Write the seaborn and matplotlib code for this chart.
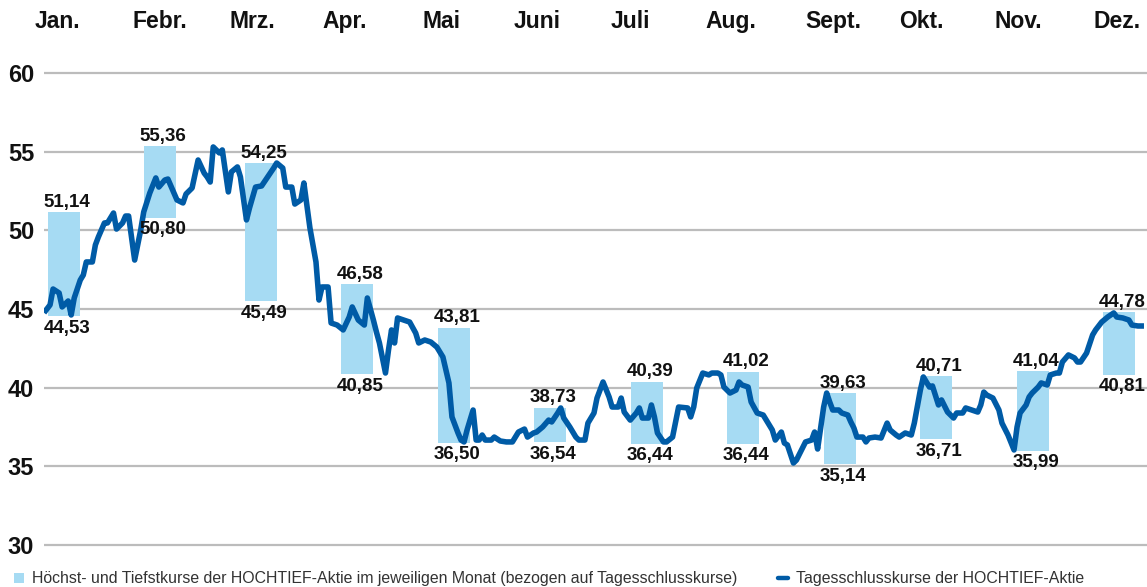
import matplotlib
matplotlib.use("Agg")
import matplotlib.pyplot as plt
import matplotlib.transforms as mtransforms
from matplotlib.patches import Patch
from matplotlib.lines import Line2D
import seaborn as sns
import pandas as pd

# ---------------- data ----------------
months = ["Jan.", "Febr.", "Mrz.", "Apr.", "Mai", "Juni", "Juli", "Aug.",
          "Sept.", "Okt.", "Nov.", "Dez."]
month_high = [51.14, 55.36, 54.25, 46.58, 43.81, 38.73, 40.39, 41.02, 39.63, 40.71, 41.04, 44.78]
month_low = [44.53, 50.80, 45.49, 40.85, 36.50, 36.54, 36.44, 36.44, 35.14, 36.71, 35.99, 40.81]
# position of each month's range bar (day of year)
bar_day = [6.5, 38.4, 71.8, 103.6, 135.7, 167.4, 199.5, 231.3, 263.4, 295.2, 327.3, 355.7]
# month header positions (day of year)
header_day = [4.6, 38.4, 68.8, 99.6, 131.4, 163.1, 193.9, 227.3, 261.1, 290.5, 322.3, 355.1]

# daily closing prices (day of year, EUR)
close_day = [0, 2, 3, 5, 6, 8, 9, 10, 12, 13, 14, 16, 17, 18, 20, 21, 23, 24, 26, 27,
             28, 30, 32, 33, 35, 37, 38, 40, 41, 43, 44, 46, 47, 49, 51, 53, 54, 55, 56, 58,
             59, 61, 62, 64, 65, 67, 68, 70, 72, 74, 76, 77, 79, 80, 82, 83, 85, 86, 88, 90,
             91, 92, 94, 95, 97, 99, 101, 102, 104, 106, 107, 109, 110, 111, 113, 114, 115, 116, 117, 119,
             121, 123, 124, 126, 128, 130, 132, 134, 135, 137, 138, 139, 140, 142, 143, 144, 145, 146, 148, 149,
             151, 153, 155, 157, 159, 160, 162, 163, 165, 167, 168, 170, 171, 172, 174, 176, 177, 179, 180, 182,
             183, 185, 187, 188, 190, 191, 192, 194, 196, 197, 198, 200, 201, 202, 203, 205, 206, 208, 209, 210,
             213, 214, 215, 216, 218, 220, 221, 223, 224, 225, 227, 229, 230, 231, 233, 234, 236, 238, 239, 241,
             242, 244, 245, 246, 248, 249, 251, 252, 254, 255, 256, 258, 259, 260, 261, 263, 264, 266, 267, 268,
             269, 271, 272, 273, 275, 277, 279, 280, 282, 283, 285, 287, 288, 290, 291, 293, 294, 296, 297, 299,
             301, 302, 304, 305, 307, 309, 310, 311, 312, 314, 316, 317, 319, 321, 322, 323, 325, 326, 327, 329,
             330, 332, 333, 335, 336, 337, 339, 341, 342, 343, 345, 347, 348, 350, 352, 354, 355, 357, 359, 360,
             362, 364]
close_price = [44.76, 45.26, 46.27, 46.02, 45.13, 45.51, 44.62, 45.70, 46.84, 47.16,
               47.99, 47.99, 49.07, 49.58, 50.47, 50.47, 51.10, 50.08, 50.47, 50.91,
               50.91, 48.11, 50.02, 51.17, 52.37, 53.33, 52.75, 53.20, 53.26, 52.37,
               51.93, 51.74, 52.31, 52.69, 54.47, 53.64, 53.39, 53.07, 55.30, 54.92,
               55.11, 52.44, 53.71, 54.03, 53.39, 50.66, 51.42, 52.75, 52.82, 53.39,
               53.96, 54.28, 53.96, 52.75, 52.75, 51.67, 51.93, 53.01, 50.15, 47.99,
               45.57, 46.40, 46.40, 44.11, 43.98, 43.67, 44.49, 45.13, 44.30, 43.98,
               45.70, 44.30, 43.54, 42.84, 40.93, 42.39, 43.67, 42.84, 44.43, 44.30,
               44.17, 43.47, 42.84, 43.03, 42.90, 42.58, 41.95, 40.30, 38.14, 37.12,
               36.67, 36.55, 37.31, 38.58, 36.67, 36.67, 36.99, 36.67, 36.67, 36.86,
               36.61, 36.55, 36.55, 37.18, 37.37, 36.86, 37.12, 37.18, 37.50, 37.94,
               37.82, 38.39, 38.71, 38.07, 37.50, 36.86, 36.67, 36.67, 37.75, 38.39,
               39.34, 40.36, 39.41, 38.77, 38.77, 39.34, 38.45, 37.94, 38.39, 38.71,
               38.07, 38.07, 38.90, 38.14, 37.12, 36.55, 36.55, 36.86, 37.82, 38.77,
               38.71, 38.14, 38.77, 39.98, 40.93, 40.81, 40.93, 40.93, 40.81, 40.04,
               39.66, 39.85, 40.36, 40.17, 40.04, 39.09, 38.39, 38.26, 37.94, 37.31,
               36.67, 37.18, 36.48, 36.36, 35.21, 35.40, 36.17, 36.55, 36.67, 37.18,
               36.10, 38.77, 39.66, 39.09, 38.58, 38.58, 38.39, 38.26, 37.82, 37.44,
               36.86, 36.86, 36.55, 36.80, 36.86, 36.80, 37.75, 37.31, 36.99, 36.86,
               37.12, 36.99, 37.75, 39.85, 40.68, 40.04, 40.11, 38.90, 39.22, 38.45,
               38.07, 38.39, 38.39, 38.71, 38.58, 38.45, 38.90, 39.72, 39.53, 39.34,
               38.58, 37.75, 36.99, 36.04, 37.50, 38.39, 38.90, 39.41, 39.66, 40.04,
               40.30, 40.17, 40.81, 40.93, 40.93, 41.63, 42.08, 41.89, 41.63, 41.63,
               42.20, 43.35, 43.67, 44.17, 44.49, 44.75, 44.49, 44.43, 44.30, 43.98,
               43.92, 43.92]

y_ticks = [30, 35, 40, 45, 50, 55, 60]
legend_labels = ["Höchst- und Tiefstkurse der HOCHTIEF-Aktie im jeweiligen Monat (bezogen auf Tagesschlusskurse)",
                 "Tagesschlusskurse der HOCHTIEF-Aktie"]

# ---------------- style ----------------
BAR = "#a6dbf3"
LINE = "#005ba6"
GRID = "#bcbcbc"
TXT = "#111111"

sns.set_theme(style="white")
plt.rcParams["font.family"] = ["Liberation Sans", "DejaVu Sans"]

W, H = 1147, 587
fig = plt.figure(figsize=(W / 100, H / 100), dpi=100)
ylo, yhi = 28.5, 61.0
px_per_unit = 15.733
bottom_px = 545 + (30 - ylo) * px_per_unit
top_px = 73 - (yhi - 60) * px_per_unit
ax = fig.add_axes([44 / W, (H - bottom_px) / H, (W - 44) / W, (bottom_px - top_px) / H])

df_close = pd.DataFrame({"day": close_day, "price": close_price})

ax.bar(bar_day, [h - l for h, l in zip(month_high, month_low)], bottom=month_low,
       width=10.6, color=BAR, zorder=2, linewidth=0)
sns.lineplot(data=df_close, x="day", y="price", ax=ax, color=LINE, linewidth=4.0,
             estimator=None, zorder=3, solid_joinstyle="round", solid_capstyle="butt")

def fmt(v):
    return f"{v:.2f}".replace(".", ",")

for xd, hi, lo in zip(bar_day, month_high, month_low):
    ax.annotate(fmt(hi), (xd + 1, hi), xytext=(0, 1.0), textcoords="offset points",
                ha="center", va="bottom", fontsize=13.5, fontweight="bold", color=TXT, zorder=5)
    ax.annotate(fmt(lo), (xd + 1, lo), xytext=(0, -2.5), textcoords="offset points",
                ha="center", va="top", fontsize=13.5, fontweight="bold", color=TXT, zorder=5)

ax.set_xlim(0, 365)
ax.set_ylim(ylo, yhi)
ax.set_yticks(y_ticks)
ax.set_yticklabels([str(t) for t in y_ticks], fontsize=17, fontweight="bold", color=TXT)
ax.tick_params(axis="y", length=0, pad=7)
ax.set_xticks([])
ax.set_xlabel("")
ax.set_ylabel("")
ax.yaxis.grid(True, color=GRID, linewidth=1.6, zorder=0)
ax.set_axisbelow(True)
for s in ax.spines.values():
    s.set_visible(False)
ax.patch.set_alpha(0)

trans = mtransforms.blended_transform_factory(ax.transData, fig.transFigure)
for xd, name in zip(header_day, months):
    ax.text(xd, (H - 28) / H, name, transform=trans, ha="center", va="baseline",
            fontsize=16.5, fontweight="bold", color=TXT)

leg1 = fig.legend(handles=[Patch(facecolor=BAR, edgecolor="none")], labels=[legend_labels[0]],
                  loc="center left", bbox_to_anchor=(14 / W, (H - 579) / H), frameon=False,
                  fontsize=11.4, handlelength=0.65, handleheight=0.65, handletextpad=0.5,
                  borderpad=0, borderaxespad=0, labelcolor="#333333")
leg2 = fig.legend(handles=[Line2D([0], [0], color=LINE, linewidth=3.2)], labels=[legend_labels[1]],
                  loc="center left", bbox_to_anchor=(778 / W, (H - 579) / H), frameon=False,
                  fontsize=11.4, handlelength=0.65, handletextpad=0.5,
                  borderpad=0, borderaxespad=0, labelcolor="#333333")

fig.savefig("out.png", dpi=100)
